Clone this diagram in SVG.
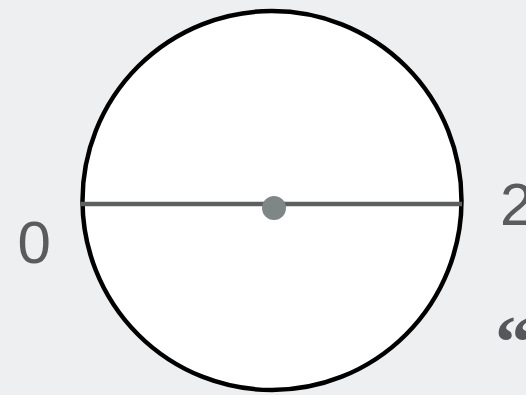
<svg xmlns="http://www.w3.org/2000/svg" width="526" height="395" viewBox="0 0 526 395">
<style>
.lbl{font-family:"Liberation Sans",Arial,sans-serif;font-size:60px;fill:#5a5b5c}
.q{font-family:"Liberation Serif","Times New Roman",serif;font-size:75px;font-weight:bold;fill:#55575a}
</style>
<rect width="526" height="395" fill="#eeeff1"/>
<g id="circle">
<circle cx="272" cy="200.5" r="189.5" fill="#ffffff" stroke="#000000" stroke-width="4.5"/>
</g>
<g id="connectors">
<line x1="81" y1="204" x2="462" y2="204" stroke="#5d5f60" stroke-width="4.5"/>
</g>
<g id="center">
<circle cx="274" cy="208" r="12" fill="#7f8686"/>
</g>
<g id="label-0"><text class="lbl" x="17.5" y="263">0</text></g>
<g id="label-2"><text class="lbl" x="500" y="225">2</text></g>
<g id="label-quote"><text class="q" x="495" y="367">“</text></g>
</svg>
